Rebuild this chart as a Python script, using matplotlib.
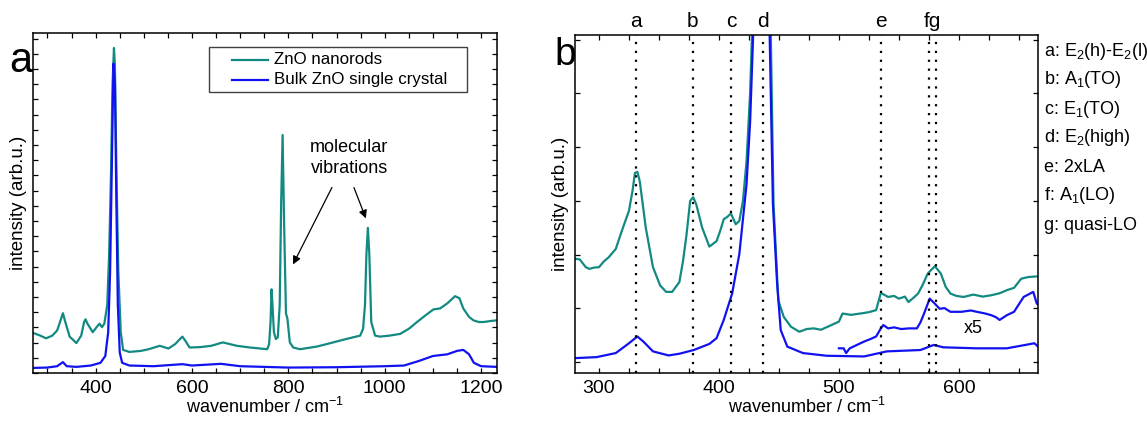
import matplotlib
matplotlib.use('Agg')
import matplotlib.pyplot as plt
from matplotlib.patches import Rectangle
from matplotlib.ticker import MultipleLocator, FixedLocator, NullFormatter

plt.rcParams['font.family'] = ['Liberation Sans', 'DejaVu Sans']
plt.rcParams['mathtext.fontset'] = 'custom'
plt.rcParams['mathtext.rm'] = 'Liberation Sans'
plt.rcParams['mathtext.it'] = 'Liberation Sans:italic'
plt.rcParams['mathtext.default'] = 'regular'

TEAL = '#128a82'
BLUE = '#1212f0'

# ---- panel a data (wavenumber, normalised intensity) ----
wn_a_rods = [270, 285, 297, 310, 320, 326, 332, 337, 346, 360, 370, 376, 379, 383, 394,
             402, 408, 413, 418, 424, 428, 432, 435, 438, 440, 443, 447, 452, 457, 470,
             494, 510, 533, 551, 565, 575, 580, 586, 595, 616, 640, 664, 693, 720, 756,
             760, 763, 765, 767, 770, 774, 778, 782, 785, 788, 791, 795, 798, 803, 810,
             824, 860, 893, 920, 949, 955, 959, 962, 965, 968, 972, 980, 990, 1010, 1032,
             1050, 1067, 1085, 1101, 1115, 1130, 1146, 1155, 1163, 1175, 1184, 1195, 1205,
             1220, 1233]
int_a_rods = [0.118, 0.110, 0.102, 0.110, 0.125, 0.150, 0.176, 0.150, 0.107, 0.088, 0.110,
              0.150, 0.158, 0.145, 0.120, 0.135, 0.145, 0.135, 0.145, 0.200, 0.350, 0.600,
              0.850, 0.956, 0.900, 0.600, 0.300, 0.120, 0.068, 0.062, 0.065, 0.070, 0.080,
              0.072, 0.085, 0.100, 0.107, 0.095, 0.075, 0.076, 0.080, 0.090, 0.080, 0.075,
              0.070, 0.085, 0.150, 0.246, 0.200, 0.120, 0.100, 0.105, 0.200, 0.500, 0.700,
              0.450, 0.175, 0.160, 0.090, 0.075, 0.070, 0.078, 0.090, 0.100, 0.110, 0.130,
              0.200, 0.350, 0.427, 0.350, 0.150, 0.110, 0.107, 0.110, 0.115, 0.130, 0.150,
              0.170, 0.187, 0.190, 0.205, 0.226, 0.220, 0.190, 0.165, 0.155, 0.150, 0.150,
              0.153, 0.155]

wn_a_bulk = [270, 300, 320, 332, 340, 360, 390, 410, 420, 426, 430, 434, 437, 440, 443, 446,
             450, 455, 470, 520, 580, 600, 660, 700, 800, 900, 1000, 1040, 1070, 1100, 1130,
             1150, 1163, 1175, 1185, 1200, 1233]
int_a_bulk = [0.015, 0.016, 0.020, 0.032, 0.020, 0.018, 0.022, 0.030, 0.050, 0.120, 0.300,
              0.650, 0.910, 0.850, 0.500, 0.200, 0.060, 0.030, 0.022, 0.020, 0.026, 0.022,
              0.027, 0.020, 0.016, 0.017, 0.020, 0.022, 0.035, 0.050, 0.055, 0.065, 0.068,
              0.055, 0.030, 0.020, 0.018]

# ---- panel b data ----
wn_b_rods = [280, 284, 289, 292, 296, 300, 304, 308, 314, 319, 325, 328, 330, 332, 334, 339,
             345, 351, 356, 361, 367, 370, 373, 376, 378.5, 381, 386, 392, 398, 401, 404, 407,
             410, 414, 417, 420, 423, 426, 428, 432, 437, 441, 443, 445.5, 449.5, 454, 460,
             467, 473, 479, 485, 492, 500, 503, 510, 518, 525, 531, 535, 541, 546, 550, 555,
             558, 562, 566, 570, 574, 580, 585, 589, 593, 598, 604, 612, 620, 627, 634, 640,
             646, 652, 658, 666]
int_b_rods = [0.338, 0.336, 0.313, 0.308, 0.312, 0.313, 0.330, 0.342, 0.367, 0.420, 0.480,
              0.540, 0.592, 0.595, 0.567, 0.430, 0.313, 0.259, 0.240, 0.240, 0.269, 0.330,
              0.410, 0.509, 0.520, 0.500, 0.430, 0.374, 0.390, 0.420, 0.455, 0.462, 0.472,
              0.440, 0.450, 0.509, 0.626, 0.830, 1.050, 2.000, 3.000, 2.000, 1.050, 0.500,
              0.215, 0.166, 0.137, 0.122, 0.130, 0.132, 0.128, 0.139, 0.152, 0.176, 0.172,
              0.176, 0.180, 0.186, 0.237, 0.225, 0.228, 0.220, 0.226, 0.210, 0.222, 0.235,
              0.262, 0.294, 0.316, 0.294, 0.255, 0.235, 0.228, 0.225, 0.232, 0.226, 0.230,
              0.236, 0.245, 0.252, 0.279, 0.284, 0.286]

wn_b_bulk = [280, 298, 314, 325, 332, 337, 345, 358, 367, 379, 392, 398, 404, 411, 417, 423,
             426, 429, 436, 442, 445, 448.5, 451.5, 457, 470, 490, 521, 540, 568, 579, 587,
             615, 640, 663, 666]
int_b_bulk = [0.044, 0.047, 0.059, 0.088, 0.108, 0.093, 0.064, 0.052, 0.057, 0.068, 0.086,
              0.103, 0.157, 0.235, 0.352, 0.558, 0.744, 1.050, 3.000, 1.050, 0.500, 0.264,
              0.127, 0.078, 0.059, 0.051, 0.049, 0.064, 0.068, 0.083, 0.076, 0.073, 0.073,
              0.088, 0.078]

wn_b_x5 = [500, 504, 506, 509, 515, 521, 526, 531, 535, 537, 541, 546, 552, 558, 565, 568,
           571, 575.7, 580, 584, 588, 593, 602, 610, 615, 622, 627, 631, 634, 640, 646, 654,
           662, 665, 666]
int_b_x5 = [0.073, 0.073, 0.059, 0.073, 0.083, 0.093, 0.100, 0.108, 0.132, 0.142, 0.132,
            0.135, 0.130, 0.132, 0.132, 0.150, 0.176, 0.220, 0.205, 0.190, 0.192, 0.181,
            0.181, 0.185, 0.181, 0.176, 0.171, 0.165, 0.157, 0.171, 0.181, 0.225, 0.240,
            0.205, 0.204]

mode_pos = [331, 378, 410, 437, 535, 575, 581]
top_tags = ['a', 'b', 'c', 'd', 'e', 'fg']
top_tag_pos = [331, 378, 410, 437, 535, 578]
mode_names = ['a: E$_2$(h)-E$_2$(l)', 'b: A$_1$(TO)', 'c: E$_1$(TO)', 'd: E$_2$(high)',
              'e: 2xLA', 'f: A$_1$(LO)', 'g: quasi-LO']

fig = plt.figure(figsize=(11.47, 4.22), dpi=100, facecolor='white')
ax1 = fig.add_axes([0.0288, 0.1161, 0.4045, 0.8057])
ax2 = fig.add_axes([0.5013, 0.1161, 0.4037, 0.8010])

for ax in (ax1, ax2):
    ax.tick_params(which='both', direction='in', top=True, right=True, length=3.5,
                   width=0.9, labelsize=14, pad=5)
    ax.tick_params(axis='y', labelleft=False)
    for s in ax.spines.values():
        s.set_linewidth(1.1)
    ax.set_xlabel('wavenumber / cm$^{-1}$', fontsize=13, labelpad=0)
    ax.set_ylabel('intensity (arb.u.)', fontsize=13.5, labelpad=4)

# panel a
ax1.plot(wn_a_rods, int_a_rods, color=TEAL, lw=1.6)
ax1.plot(wn_a_bulk, int_a_bulk, color=BLUE, lw=1.6)
ax1.set_xlim(270, 1233)
ax1.set_ylim(0, 1)
ax1.xaxis.set_major_locator(MultipleLocator(200))
ax1.xaxis.set_minor_locator(MultipleLocator(50))
ax1.yaxis.set_major_locator(MultipleLocator(0.0447))
ax1.yaxis.set_major_formatter(NullFormatter())

# legend box drawn Origin-style
ax1.add_patch(Rectangle((0.379, 0.826), 0.556, 0.133, transform=ax1.transAxes,
                        facecolor='white', edgecolor='#404040', lw=1.0, zorder=5))
for yy, col, lab in [(0.921, TEAL, 'ZnO nanorods'), (0.862, BLUE, 'Bulk ZnO single crystal')]:
    ax1.plot([0.429, 0.506], [yy, yy], color=col, lw=1.6, transform=ax1.transAxes, zorder=6)
    ax1.text(0.519, yy, lab, fontsize=12.2, va='center', ha='left',
             transform=ax1.transAxes, zorder=6)

ax1.text(926, 0.632, 'molecular\nvibrations', ha='center', va='center', fontsize=13,
         linespacing=1.3)
arrow = dict(arrowstyle='-|>', color='black', lw=0.9, mutation_scale=12)
ax1.annotate('', xy=(807, 0.312), xytext=(893, 0.553), arrowprops=arrow)
ax1.annotate('', xy=(963, 0.447), xytext=(934, 0.553), arrowprops=arrow)
fig.text(0.018, 0.855, 'a', fontsize=30, ha='center', va='center')

# panel b
ax2.plot(wn_b_rods, int_b_rods, color=TEAL, lw=1.6)
ax2.plot(wn_b_bulk, int_b_bulk, color=BLUE, lw=1.6)
ax2.plot(wn_b_x5, int_b_x5, color=BLUE, lw=1.6)
ax2.set_xlim(280, 666)
ax2.set_ylim(0, 1)
ax2.xaxis.set_major_locator(MultipleLocator(100))
ax2.xaxis.set_minor_locator(MultipleLocator(25))
ax2.yaxis.set_major_locator(FixedLocator([0.032, 0.191, 0.35, 0.509, 0.668, 0.827, 0.986]))
ax2.yaxis.set_major_formatter(NullFormatter())
for xp in mode_pos:
    ax2.axvline(xp, color='black', ls=(0, (1, 3)), lw=1.6)
for xp, tag in zip(top_tag_pos, top_tags):
    ax2.text(xp, 1.04, tag, ha='center', va='center', fontsize=15,
             transform=ax2.get_xaxis_transform())
ax2.text(612, 0.132, 'x5', ha='center', va='center', fontsize=13)
fig.text(0.4926, 0.87, 'b', fontsize=28, ha='center', va='center')

label_y = [51, 80, 109, 138, 167, 196, 225]
for name, py in zip(mode_names, label_y):
    fig.text(0.910, 1 - py / 422, name, fontsize=13, ha='left', va='center')

fig.savefig('out.png', dpi=100)
